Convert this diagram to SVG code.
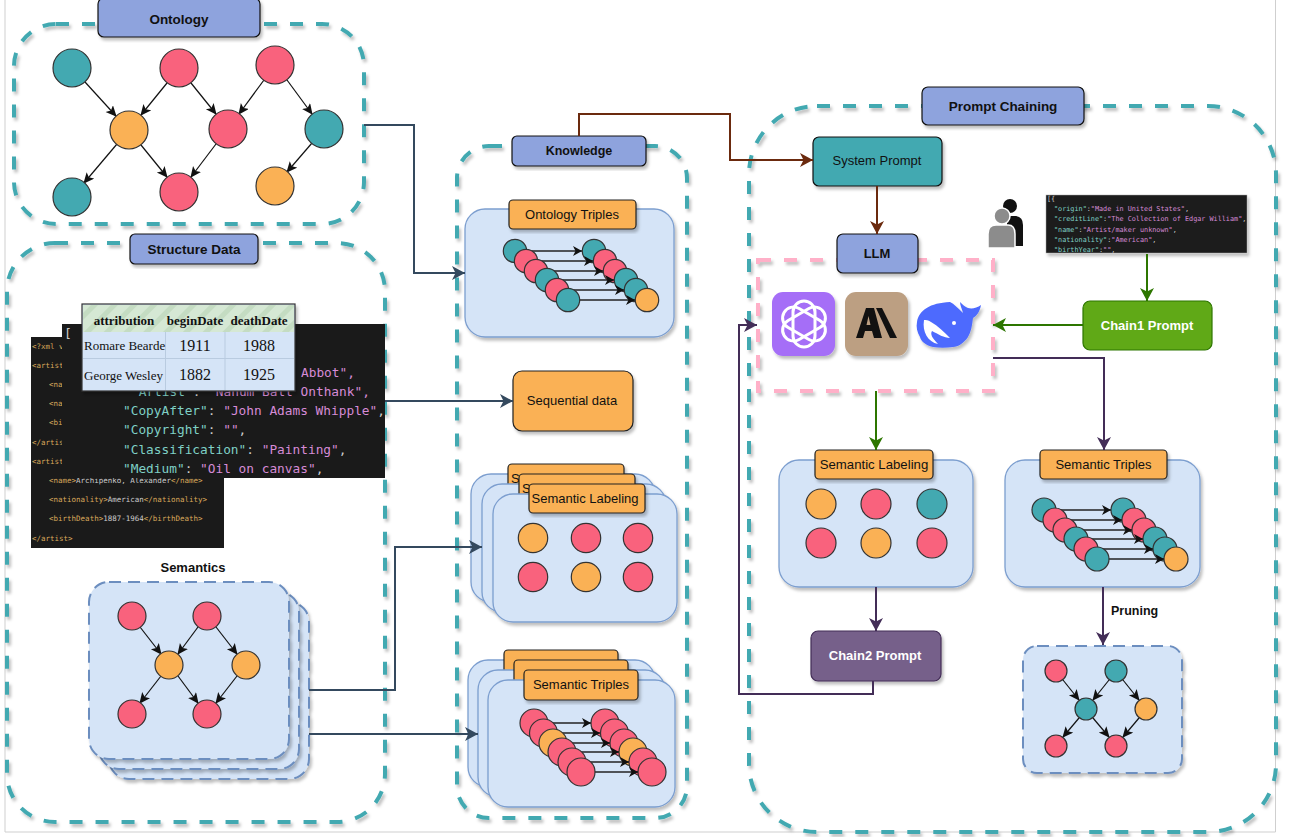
<svg xmlns="http://www.w3.org/2000/svg" width="1289" height="837" viewBox="0 0 1289 837">
<style>
text{font-family:"Liberation Sans",Arial,sans-serif;fill:#111}
.c{text-anchor:middle}
.b{font-weight:700}
.dash{fill:none;stroke:#43a9b1;stroke-width:4;stroke-dasharray:13 13;filter:url(#sh)}
.blue{fill:#8ea3dd;stroke:#111;stroke-width:1.2;filter:url(#sh)}
.org{fill:#fab155;stroke:#222;stroke-width:1.2;filter:url(#sh)}
.panel{fill:#d5e4f7;stroke:#7c9ecf;stroke-width:1.3;filter:url(#sh)}
.dpanel{fill:#d5e4f7;stroke:#6c8ebf;stroke-width:2;stroke-dasharray:12 7;filter:url(#sh)}
.p,.t,.o{stroke:#333;stroke-width:1.2}
.p{fill:#f9627d}.t{fill:#43a9b1}.o{fill:#fab155}
.e{fill:none;stroke:#111;stroke-width:1.2;marker-end:url(#ak)}
.te{fill:none;stroke:#222;stroke-width:1.4;marker-end:url(#at)}
.cn{fill:none;stroke-width:2}
.navy{stroke:#34495e;marker-end:url(#an)}
.brown{stroke:#6b2a0e;marker-end:url(#abr)}
.green{stroke:#2d7600;marker-end:url(#agr)}
.purple{stroke:#432d57;marker-end:url(#apu)}
.code{font-family:"DejaVu Sans Mono","Liberation Mono",monospace}
.k{fill:#7fd0c6}.s{fill:#d68bd6}.tag{fill:#d9a95a}.w{fill:#ccc}
.ser{font-family:"Liberation Serif","Times New Roman",serif}
.edge{fill:none;stroke:#cfcfcf;stroke-width:1}
</style>
<defs>
<filter id="sh" x="-10%" y="-10%" width="125%" height="125%"><feDropShadow dx="2" dy="3" stdDeviation="1.6" flood-color="#000" flood-opacity=".25"/></filter>
<marker id="ak" markerUnits="userSpaceOnUse" markerWidth="14" markerHeight="12" refX="10" refY="5" orient="auto"><path d="M0,0 L11,5 L0,10 L2.500,5Z" fill="#111"/></marker>
<marker id="at" markerUnits="userSpaceOnUse" markerWidth="12" markerHeight="12" refX="9" refY="5" orient="auto"><path d="M0,0 L9,5 L0,10 L2.500,5Z" fill="#111"/></marker>
<marker id="an" markerUnits="userSpaceOnUse" markerWidth="16" markerHeight="16" refX="13" refY="7" orient="auto"><path d="M0,0 L13,7 L0,14 L3.500,7Z" fill="#34495e"/></marker>
<marker id="abr" markerUnits="userSpaceOnUse" markerWidth="16" markerHeight="16" refX="13" refY="7" orient="auto"><path d="M0,0 L13,7 L0,14 L3.500,7Z" fill="#6b2a0e"/></marker>
<marker id="agr" markerUnits="userSpaceOnUse" markerWidth="16" markerHeight="16" refX="13" refY="7" orient="auto"><path d="M0,0 L13,7 L0,14 L3.500,7Z" fill="#2d7600"/></marker>
<marker id="apu" markerUnits="userSpaceOnUse" markerWidth="16" markerHeight="16" refX="13" refY="7" orient="auto"><path d="M0,0 L13,7 L0,14 L3.500,7Z" fill="#432d57"/></marker>
<pattern id="hatch" width="14" height="14" patternUnits="userSpaceOnUse" patternTransform="rotate(45)"><rect width="14" height="14" fill="#d5e8d4"/><rect width="5" height="14" fill="#c4dcc2"/></pattern>
<clipPath id="jsclip"><rect x="1046" y="195" width="201" height="58"/></clipPath>
</defs>
<rect width="1289" height="837" fill="#fff"/>
<path class="edge" d="M5,0V832H1275.500V0"/>

<g id="ontology">
<rect class="dash" x="14" y="24" width="350" height="200" rx="42"/>
<rect class="blue" x="98" y="-2" width="162" height="39" rx="6"/>
<text class="c b" x="179" y="24" font-size="13.500">Ontology</text>
<g>
<line class="e" x1="85" y1="82" x2="116" y2="116"/><line class="e" x1="167" y1="83" x2="141" y2="115"/><line class="e" x1="191" y1="83" x2="216" y2="114"/><line class="e" x1="264" y1="80" x2="239" y2="114"/><line class="e" x1="287" y1="80" x2="312" y2="114"/><line class="e" x1="117" y1="144" x2="84" y2="183"/><line class="e" x1="141" y1="145" x2="167" y2="177"/><line class="e" x1="216" y1="144" x2="191" y2="177"/><line class="e" x1="312" y1="143" x2="287" y2="172"/>
<circle class="t" cx="72" cy="68" r="19"/><circle class="p" cx="179" cy="68" r="19"/><circle class="p" cx="275" cy="65" r="19"/><circle class="o" cx="129" cy="130" r="19"/><circle class="p" cx="228" cy="129" r="19"/><circle class="t" cx="324" cy="129" r="19"/><circle class="t" cx="72" cy="197" r="19"/><circle class="p" cx="179" cy="192" r="19"/><circle class="o" cx="275" cy="186" r="19"/>
</g>
</g>

<g id="structure-data">
<rect class="dash" x="7" y="243" width="378" height="579" rx="48"/>
<rect class="blue" x="130" y="234" width="128" height="30" rx="5"/>
<text class="c b" x="194" y="254" font-size="13.500">Structure Data</text>
</g>

<g id="xml-code">
<rect x="31" y="337" width="193" height="211" fill="#1a1a1a"/>
<g font-size="7.500">
<text class="code tag" x="32" y="349">&lt;?xml v</text>
<text class="code tag" x="32" y="368">&lt;artist</text>
<text class="code tag" x="49" y="387">&lt;na</text>
<text class="code tag" x="49" y="406">&lt;na</text>
<text class="code tag" x="49" y="425">&lt;bi</text>
<text class="code tag" x="32" y="445">&lt;/artis</text>
<text class="code tag" x="32" y="464">&lt;artist</text>
<text class="code" x="49" y="483"><tspan class="tag">&lt;name&gt;</tspan><tspan class="w">Archipenko, Alexander</tspan><tspan class="tag">&lt;/name&gt;</tspan></text>
<text class="code" x="49" y="502"><tspan class="tag">&lt;nationality&gt;</tspan><tspan class="w">American</tspan><tspan class="tag">&lt;/nationality&gt;</tspan></text>
<text class="code" x="49" y="521"><tspan class="tag">&lt;birthDeath&gt;</tspan><tspan class="w">1887-1964</tspan><tspan class="tag">&lt;/birthDeath&gt;</tspan></text>
<text class="code tag" x="32" y="541">&lt;/artist&gt;</text>
</g>
</g>

<g id="json-code">
<rect x="62" y="324" width="323" height="154" fill="#1a1a1a"/>
<text class="code w" x="64" y="338" font-size="13">[</text>
<g font-size="12.800">
<text class="code s" x="301" y="377">Abbot",</text>
<text class="code" x="131" y="396"><tspan class="k">"Artist"</tspan><tspan class="w">: </tspan><tspan class="s">"Nahum Ball Onthank",</tspan></text>
<text class="code" x="123" y="415"><tspan class="k">"CopyAfter"</tspan><tspan class="w">: </tspan><tspan class="s">"John Adams Whipple"</tspan><tspan class="w">,</tspan></text>
<text class="code" x="123" y="434"><tspan class="k">"Copyright"</tspan><tspan class="w">: </tspan><tspan class="s">""</tspan><tspan class="w">,</tspan></text>
<text class="code" x="123" y="454"><tspan class="k">"Classification"</tspan><tspan class="w">: </tspan><tspan class="s">"Painting"</tspan><tspan class="w">,</tspan></text>
<text class="code" x="123" y="473"><tspan class="k">"Medium"</tspan><tspan class="w">: </tspan><tspan class="s">"Oil on canvas"</tspan><tspan class="w">,</tspan></text>
</g>
</g>

<g id="table">
<rect x="82" y="304" width="213" height="87" fill="#d5e4f7" stroke="#333" stroke-width="1.200" filter="url(#sh)"/>
<rect x="83" y="305" width="211" height="27" fill="url(#hatch)"/>
<path d="M83,358.500H294M165.500,332V390M225,332V390" stroke="#b9cbe0" fill="none"/>
<g font-weight="700" font-size="13">
<text class="ser c" x="124" y="325">attribution</text><text class="ser c" x="195" y="325">beginDate</text><text class="ser c" x="259" y="325">deathDate</text>
</g>
<text class="ser" x="84" y="350" font-size="13">Romare Bearde</text>
<text class="ser" x="84" y="380" font-size="13">George Wesley</text>
<g font-size="16">
<text class="ser c" x="195" y="351">1911</text><text class="ser c" x="259" y="351">1988</text><text class="ser c" x="195" y="380">1882</text><text class="ser c" x="259" y="380">1925</text>
</g>
</g>

<g id="semantics">
<text class="c b" x="193" y="572" font-size="13">Semantics</text>
<rect class="dpanel" x="109" y="602" width="200" height="177" rx="20"/>
<rect class="dpanel" x="99" y="592" width="200" height="177" rx="20"/>
<rect class="dpanel" x="89" y="582" width="200" height="177" rx="20"/>
<line class="e" x1="140" y1="627" x2="161" y2="654"/><line class="e" x1="198" y1="627" x2="178" y2="654"/><line class="e" x1="216" y1="627" x2="237" y2="654"/><line class="e" x1="161" y1="676" x2="140" y2="703"/><line class="e" x1="178" y1="676" x2="198" y2="703"/><line class="e" x1="237" y1="676" x2="216" y2="703"/>
<circle class="p" cx="132" cy="616" r="14"/><circle class="p" cx="207" cy="616" r="14"/><circle class="o" cx="169" cy="665" r="14"/><circle class="o" cx="246" cy="665" r="14"/><circle class="p" cx="132" cy="714" r="14"/><circle class="p" cx="207" cy="714" r="14"/>
</g>

<g id="knowledge">
<rect class="dash" x="457" y="146" width="230" height="672" rx="32"/>
<rect class="blue" x="512" y="136" width="134" height="30" rx="5"/>
<text class="c b" x="579" y="155" font-size="12.500">Knowledge</text>
</g>

<g id="ontology-triples">
<rect class="panel" x="465" y="209" width="209" height="128" rx="20"/>
<rect class="org" x="509" y="200" width="127" height="29" rx="4"/>
<text class="c" x="572" y="219" font-size="13">Ontology Triples</text>
<circle class="t" cx="594" cy="251" r="11.700"/><circle class="p" cx="605" cy="261" r="11.700"/><circle class="p" cx="615" cy="271" r="11.700"/><circle class="t" cx="626" cy="280" r="11.700"/><circle class="t" cx="636" cy="290" r="11.700"/><circle class="o" cx="647" cy="300" r="11.700"/>
<line class="te" x1="515" y1="251" x2="582" y2="251"/><line class="te" x1="526" y1="261" x2="593" y2="261"/><line class="te" x1="536" y1="271" x2="603" y2="271"/><line class="te" x1="547" y1="280" x2="614" y2="280"/><line class="te" x1="557" y1="290" x2="624" y2="290"/><line class="te" x1="568" y1="300" x2="635" y2="300"/>
<circle class="t" cx="515" cy="251" r="11.700"/><circle class="p" cx="526" cy="261" r="11.700"/><circle class="p" cx="536" cy="271" r="11.700"/><circle class="t" cx="547" cy="280" r="11.700"/><circle class="p" cx="557" cy="290" r="11.700"/><circle class="t" cx="568" cy="300" r="11.700"/>
</g>

<g id="sequential-data">
<rect class="org" x="513" y="371" width="120" height="60" rx="9"/>
<text class="c" x="572" y="405" font-size="13">Sequential data</text>
</g>

<g id="semantic-labeling-stack">
<rect class="panel" x="471" y="474" width="184" height="128" rx="20"/>
<rect class="org" x="508" y="464" width="116" height="29" rx="4"/>
<text x="511" y="483" font-size="13">S</text>
<rect class="panel" x="482" y="484" width="184" height="128" rx="20"/>
<rect class="org" x="519" y="474" width="116" height="29" rx="4"/>
<text x="522" y="493" font-size="13">S</text>
<rect class="panel" x="493" y="494" width="184" height="128" rx="20"/>
<rect class="org" x="529" y="484" width="116" height="29" rx="4"/>
<text class="c" x="585" y="503" font-size="13">Semantic Labeling</text>
<circle class="o" cx="533" cy="538" r="14.700"/><circle class="p" cx="586" cy="538" r="14.700"/><circle class="p" cx="638" cy="538" r="14.700"/><circle class="p" cx="533" cy="577" r="14.700"/><circle class="o" cx="586" cy="577" r="14.700"/><circle class="p" cx="638" cy="577" r="14.700"/>
</g>

<g id="semantic-triples-stack">
<rect class="panel" x="468" y="660" width="187" height="127" rx="20"/>
<rect class="org" x="504" y="650" width="114" height="30" rx="4"/>
<rect class="panel" x="478" y="670" width="187" height="127" rx="20"/>
<rect class="org" x="514" y="660" width="114" height="30" rx="4"/>
<rect class="panel" x="488" y="680" width="187" height="127" rx="20"/>
<rect class="org" x="524" y="670" width="114" height="30" rx="4"/>
<text class="c" x="581" y="689" font-size="13">Semantic Triples</text>
<circle class="p" cx="605" cy="723" r="14"/><circle class="p" cx="614.500" cy="733" r="14"/><circle class="p" cx="624" cy="743" r="14"/><circle class="o" cx="633" cy="752" r="14"/><circle class="p" cx="643" cy="762" r="14"/><circle class="p" cx="652" cy="772" r="14"/>
<line class="te" x1="534" y1="723" x2="591" y2="723"/><line class="te" x1="543" y1="733" x2="600" y2="733"/><line class="te" x1="553" y1="743" x2="610" y2="743"/><line class="te" x1="562" y1="752" x2="619" y2="752"/><line class="te" x1="572" y1="762" x2="629" y2="762"/><line class="te" x1="581" y1="772" x2="638" y2="772"/>
<circle class="p" cx="534" cy="723" r="14"/><circle class="p" cx="543.500" cy="733" r="14"/><circle class="o" cx="553" cy="743" r="14"/><circle class="p" cx="562" cy="752" r="14"/><circle class="p" cx="572" cy="762" r="14"/><circle class="p" cx="581" cy="772" r="14"/>
</g>

<g id="prompt-chaining">
<rect class="dash" x="749" y="106" width="527" height="726" rx="68"/>
<rect class="blue" x="922" y="87" width="162" height="38" rx="6"/>
<text class="c b" x="1003" y="111" font-size="13.500">Prompt Chaining</text>
</g>

<g id="system-prompt">
<rect x="813" y="137" width="129" height="49" rx="6" fill="#43a9b1" stroke="#111" stroke-width="1.200" filter="url(#sh)"/>
<text class="c" x="877" y="165" font-size="13">System Prompt</text>
</g>

<g id="llm-models">
<rect x="758" y="260" width="235" height="131" fill="none" stroke="#ffb0c8" stroke-width="4" stroke-dasharray="13 13" filter="url(#sh)"/>
<rect x="772" y="292" width="63" height="64" rx="11" fill="#a56ef7" filter="url(#sh)"/>
<g fill="none" stroke="#fff" stroke-width="3">
<rect x="793" y="301" width="22" height="46" rx="11"/>
<rect x="793" y="301" width="22" height="46" rx="11" transform="rotate(60 804 324)"/>
<rect x="793" y="301" width="22" height="46" rx="11" transform="rotate(120 804 324)"/>
</g>
<rect x="845" y="292" width="63" height="64" rx="11" fill="#bc9f82" filter="url(#sh)"/>
<path fill-rule="evenodd" d="M856,338 L866,308 H874 L882,338 H874 L872,331 H865 L863,338Z M866.500,325 H870.500 L868.500,316Z M876,308 H882 L897,338 H890Z" fill="#111"/>
<path d="M917,322 C919,310 930,303 950,302 C954,304 958,308 963,313 C962,309 960,305 960,302 C963,305 965,307 968,308 C972,309 977,308 981,305 C980,311 977,316 973,318 C972,326 971,332 968,337 C964,343 958,347 953,347 C946,348 939,348 933,347 C925,345 921,341 920,337 C917,332 916,327 917,322Z" fill="#4d6bfe" filter="url(#sh)"/>
<path d="M924,320 C922,332 928,342 938,344 C932,338 930,334 932,331 C938,334 944,338 950,338 C944,332 938,326 931,322 C928,320 926,320 924,320Z" fill="#fff"/>
<circle cx="954" cy="323" r="2" fill="#fff"/>
</g>

<g id="llm">
<rect class="blue" x="837" y="234" width="81" height="39" rx="6"/>
<text class="c b" x="877" y="258" font-size="13">LLM</text>
</g>

<g id="person">
<circle cx="1010" cy="206" r="7" fill="#111"/>
<path d="M1007,216 H1016 Q1023,217 1023,225 V246 H1007Z" fill="#111"/>
<path d="M988,248 V234 Q988,225 996,225 H1008 Q1015,225 1015,234 V248Z" fill="#8c8c8c" stroke="#fff" stroke-width="1.500"/>
<circle cx="1002" cy="216" r="8" fill="#8c8c8c" stroke="#fff" stroke-width="1.500"/>
</g>

<g id="small-json">
<rect x="1046" y="195" width="201" height="58" fill="#1a1a1a" stroke="#aaa" stroke-width=".5" filter="url(#sh)"/>
<g clip-path="url(#jsclip)" font-size="6.800">
<text class="code w" x="1047" y="201">[{</text>
<text class="code" x="1054" y="211"><tspan class="k">"origin"</tspan><tspan class="w">:</tspan><tspan class="s">"Made in United States"</tspan><tspan class="w">,</tspan></text>
<text class="code" x="1054" y="221"><tspan class="k">"creditLine"</tspan><tspan class="w">:</tspan><tspan class="s">"The Collection of Edgar William"</tspan><tspan class="w">,</tspan></text>
<text class="code" x="1054" y="232"><tspan class="k">"name"</tspan><tspan class="w">:</tspan><tspan class="s">"Artist/maker unknown"</tspan><tspan class="w">,</tspan></text>
<text class="code" x="1054" y="242"><tspan class="k">"nationality"</tspan><tspan class="w">:</tspan><tspan class="s">"American"</tspan><tspan class="w">,</tspan></text>
<text class="code" x="1054" y="252"><tspan class="k">"birthYear"</tspan><tspan class="w">:</tspan><tspan class="s">""</tspan><tspan class="w">,</tspan></text>
</g>
</g>

<g id="chain1-prompt">
<rect x="1083" y="301" width="129" height="49" rx="7" fill="#60a917" stroke="#2d7600" stroke-width="1.200"/>
<text class="c b" x="1147" y="330" font-size="13" style="fill:#fff">Chain1 Prompt</text>
</g>

<g id="semantic-labeling">
<rect class="panel" x="779" y="460" width="194" height="127" rx="20"/>
<rect class="org" x="815" y="450" width="118" height="29" rx="4"/>
<text class="c" x="874" y="469" font-size="13.200">Semantic Labeling</text>
<circle class="o" cx="821" cy="504" r="15"/><circle class="p" cx="876" cy="504" r="15"/><circle class="t" cx="932" cy="504" r="15"/><circle class="p" cx="821" cy="543" r="15"/><circle class="o" cx="876" cy="543" r="15"/><circle class="p" cx="932" cy="543" r="15"/>
</g>

<g id="semantic-triples">
<rect class="panel" x="1005" y="460" width="195" height="127" rx="20"/>
<rect class="org" x="1040" y="450" width="127" height="29" rx="4"/>
<text class="c" x="1103.500" y="469" font-size="13">Semantic Triples</text>
<circle class="t" cx="1123" cy="510" r="12"/><circle class="p" cx="1134" cy="520" r="12"/><circle class="p" cx="1144" cy="530" r="12"/><circle class="t" cx="1155" cy="539" r="12"/><circle class="t" cx="1165" cy="549" r="12"/><circle class="o" cx="1176" cy="559" r="12"/>
<line class="te" x1="1044" y1="510" x2="1111" y2="510"/><line class="te" x1="1055" y1="520" x2="1122" y2="520"/><line class="te" x1="1065" y1="530" x2="1132" y2="530"/><line class="te" x1="1076" y1="539" x2="1143" y2="539"/><line class="te" x1="1086" y1="549" x2="1153" y2="549"/><line class="te" x1="1097" y1="559" x2="1164" y2="559"/>
<circle class="t" cx="1044" cy="510" r="12"/><circle class="p" cx="1055" cy="520" r="12"/><circle class="p" cx="1065" cy="530" r="12"/><circle class="t" cx="1076" cy="539" r="12"/><circle class="p" cx="1086" cy="549" r="12"/><circle class="t" cx="1097" cy="559" r="12"/>
</g>

<g id="chain2-prompt">
<rect x="811" y="631" width="130" height="50" rx="7" fill="#76608a" stroke="#432d57" stroke-width="1.200" filter="url(#sh)"/>
<text class="c b" x="875" y="660" font-size="13" style="fill:#fff">Chain2 Prompt</text>
</g>

<g id="pruned-graph">
<rect class="dpanel" x="1023" y="646" width="159" height="127" rx="14"/>
<line class="e" x1="1063" y1="680" x2="1079" y2="700"/><line class="e" x1="1109" y1="680" x2="1093" y2="700"/><line class="e" x1="1123" y1="680" x2="1139" y2="700"/><line class="e" x1="1079" y1="718" x2="1063" y2="737"/><line class="e" x1="1093" y1="718" x2="1109" y2="737"/><line class="e" x1="1139" y1="718" x2="1123" y2="737"/>
<circle class="p" cx="1056" cy="671" r="11"/><circle class="t" cx="1116" cy="671" r="11"/><circle class="t" cx="1086" cy="709" r="11"/><circle class="o" cx="1146" cy="709" r="11"/><circle class="p" cx="1056" cy="746" r="11"/><circle class="p" cx="1116" cy="746" r="11"/>
</g>

<g id="connectors">
<path class="cn navy" d="M364,125H414V273H465"/>
<path class="cn navy" d="M385,401H513"/>
<path class="cn navy" d="M309,690H395V547H482"/>
<path class="cn navy" d="M309,734H478"/>
<path class="cn brown" d="M579,136V114H730V160H813"/>
<path class="cn brown" d="M877,186V234"/>
<path class="cn green" d="M1083,325H993"/>
<path class="cn green" d="M1147,254V301"/>
<path class="cn green" d="M876,391V450"/>
<path class="cn purple" d="M993,358H1104V450"/>
<path class="cn purple" d="M876,587V631"/>
<path class="cn purple" d="M873,681V694H739V325H757"/>
<path class="cn purple" d="M1103,587V645"/>
<text class="b" x="1111" y="615" font-size="12.500">Pruning</text>
</g>
</svg>
